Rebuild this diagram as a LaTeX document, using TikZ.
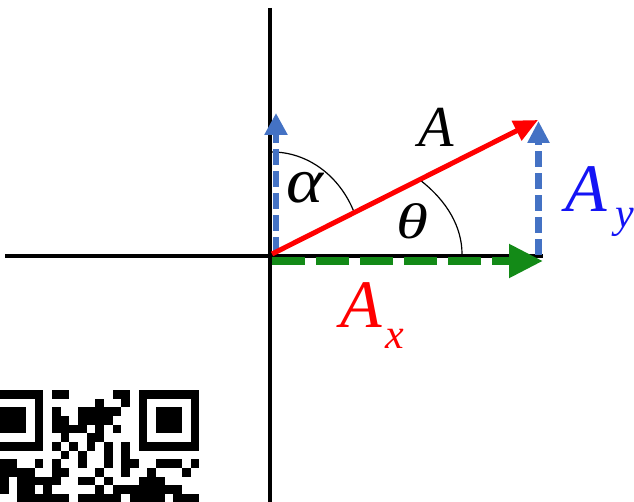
\documentclass[tikz,border=0pt]{standalone}
\usepackage{fontspec}
\setmainfont{Liberation Serif}
\usepackage{tikz}
\usetikzlibrary{arrows.meta}
\definecolor{ink}{HTML}{000000}
\definecolor{vecA}{HTML}{FF0000}
\definecolor{compx}{HTML}{138A17}
\definecolor{compy}{HTML}{4472C4}
\definecolor{laby}{HTML}{1414F5}
\begin{document}
\begin{tikzpicture}[x=1pt,y=1pt,font=\itshape]
\useasboundingbox (0,0) rectangle (634,501);
\fill[white] (0,0) rectangle (634,501);
\coordinate (O) at (272,247);
\coordinate (ytop) at (270,493);
\coordinate (ybot) at (270,-2);
\coordinate (xleft) at (5,245);
\coordinate (xright) at (543,245);
\coordinate (Atip) at (538,381);
\coordinate (Axbase) at (272,240);
\coordinate (Axtip) at (543,240);
\coordinate (Aybase) at (276,248);
\coordinate (Aytip) at (276,388);
\coordinate (Aybase2) at (538.5,246);
\coordinate (Aytip2) at (538.5,380);
\draw[ink,line width=4pt] (ytop) -- (ybot);
\draw[ink,line width=3.5pt] (xleft) -- (xright);
\draw[ink,line width=1.2pt] (O) ++(90:90 and 102) arc[start angle=90,end angle=23.8,x radius=90,y radius=102];
\draw[ink,line width=1.2pt] (O) ++(38.8:190 and 118) arc[start angle=38.8,end angle=0,x radius=190,y radius=118];
\draw[compy,line width=6.5pt,dash pattern=on 16pt off 6pt,-{Triangle[length=22pt,width=22pt]}] (Aybase) -- (Aytip);
\draw[compy,line width=7pt,dash pattern=on 16pt off 6pt,-{Triangle[length=22pt,width=21pt]}] (Aybase2) -- (Aytip2);
\draw[compx,line width=8pt,dash pattern=on 33pt off 11pt,-{Triangle[length=34pt,width=32pt]}] (Axbase) -- (Axtip);
\draw[vecA,line width=5pt,-{Triangle[length=24pt,width=21pt]}] (O) -- (Atip);
\node[ink,anchor=base west,inner sep=0pt,font=\itshape\fontsize{58}{58}\selectfont] (labA) at (418,354) {A};
\node[ink,inner sep=0pt,font=\itshape\fontsize{64}{64}\selectfont] (alpha) at (305,313) {\scalebox{1.1}[1]{α}};
\node[ink,inner sep=0pt,font=\itshape\fontsize{50}{50}\selectfont] (theta) at (412,280) {\scalebox{1.3}[1]{θ}};
\node[laby,anchor=base west,inner sep=0pt,font=\itshape\fontsize{68}{68}\selectfont] (labAy) at (565,289) {A\kern9pt\raisebox{-16pt}{\fontsize{42}{42}\selectfont y}};
\node[vecA,anchor=base west,inner sep=0pt,font=\itshape\fontsize{68}{68}\selectfont] (labAx) at (340,174) {A\kern4pt\raisebox{-21pt}{\fontsize{42}{42}\selectfont x}};
\begin{scope}[shift={(-17.4,111)}]
 \foreach \c in {0,18} {
  \fill[ink] (\c*8.67,0) rectangle ++(60.69,-60.69);
  \fill[white] (\c*8.67+8.67,-8.67) rectangle ++(43.35,-43.35);
  \fill[ink] (\c*8.67+17.34,-17.34) rectangle ++(26.01,-26.01);}
 \foreach \r/\cols in {0/{8,9,15,16},1/{13,16},2/{8,11,12,13,14,15},3/{8,9,11,12,13,14},4/{8,9,10,11,13,15},5/{9,12,13},6/{8,10,12,14,16},7/{9,11,14,16},8/{2,3,6,8,11,14,16,17,20,21,22,24},9/{2,3,4,5,8,9,13,16,19,23},10/{2,4,5,6,7,8,11,12,14,18,19,20},11/{2,4,5,7,13,15,16,17,18,19,20,21,22},12/{4,5,6,7,8,9,11,12,13,14,15,17,18,19,20,22,23,24}} {
  \foreach \c in \cols {
   \fill[ink] (\c*8.67-0.05,-\r*8.67+0.05) rectangle ++(8.77,-8.77);}}
\end{scope}
\end{tikzpicture}
\end{document}
